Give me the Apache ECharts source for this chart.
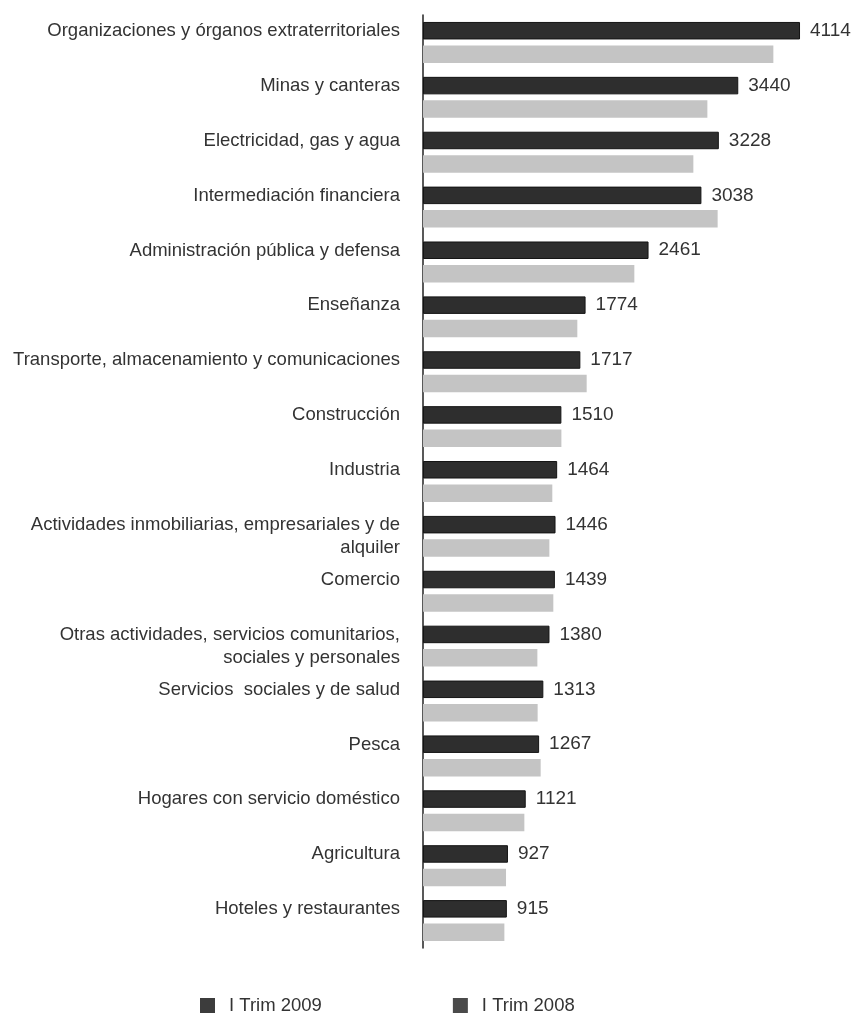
<!DOCTYPE html>
<html>
<head>
<meta charset="utf-8">
<title>Salario por rama de actividad</title>
<script src="https://cdn.jsdelivr.net/npm/echarts@6/dist/echarts.min.js"></script>
<style>
  html, body { margin: 0; padding: 0; background: #fff; }
  #chart { width: 857px; height: 1016px; }
</style>
</head>
<body>
<div id="chart"></div>
<script>
// Sectors, listed from top to bottom
var categories = [
  'Organizaciones y órganos extraterritoriales',
  'Minas y canteras',
  'Electricidad, gas y agua',
  'Intermediación financiera',
  'Administración pública y defensa',
  'Enseñanza',
  'Transporte, almacenamiento y comunicaciones',
  'Construcción',
  'Industria',
  'Actividades inmobiliarias, empresariales y de\nalquiler',
  'Comercio',
  'Otras actividades, servicios comunitarios,\nsociales y personales',
  'Servicios  sociales y de salud',
  'Pesca',
  'Hogares con servicio doméstico',
  'Agricultura',
  'Hoteles y restaurantes'
];

var seriesNames = ['I Trim 2009', 'I Trim 2008'];

var trim2009 = [4114, 3440, 3228, 3038, 2461, 1774, 1717, 1510, 1464, 1446, 1439, 1380, 1313, 1267, 1121, 927, 915];
var trim2008 = [3823, 3103, 2950, 3215, 2306, 1684, 1786, 1510, 1411, 1379, 1422, 1248, 1251, 1284, 1106, 906, 888];

var FONT = '"Liberation Sans", Arial, sans-serif';
var TEXT = '#333333';

var chart = echarts.init(document.getElementById('chart'), null, { renderer: 'canvas' });

chart.setOption({
  backgroundColor: '#ffffff',
  animation: false,
  grid: { left: 423, top: 15, width: 412.4, height: 933, containLabel: false },
  xAxis: {
    type: 'value',
    min: 0,
    max: 4500,
    show: false
  },
  yAxis: {
    type: 'category',
    data: categories,
    inverse: true,
    axisLine: { show: true, lineStyle: { color: '#222222', width: 1.5 } },
    axisTick: { show: false },
    splitLine: { show: false },
    axisLabel: {
      margin: 23,
      fontFamily: FONT,
      fontSize: 18.5,
      color: TEXT,
      lineHeight: 23,
      align: 'right',
      verticalAlign: 'middle',
      // first line sits level with the dark bar of each pair
      formatter: function (v) { return v.indexOf('\n') < 0 ? v + '\n ' : v; }
    }
  },
  legend: {
    left: 195,
    top: 991,
    itemWidth: 15,
    itemHeight: 15,
    itemGap: 131,
    icon: 'rect',
    itemStyle: { borderWidth: 0 },
    textStyle: { fontFamily: FONT, fontSize: 18.5, color: TEXT, padding: [0, 0, 0, 9] },
    data: [
      { name: seriesNames[0], itemStyle: { color: '#3c3c3c', borderWidth: 0 } },
      { name: seriesNames[1], itemStyle: { color: '#4a4a4a', borderWidth: 0 } }
    ]
  },
  series: [
    {
      name: seriesNames[0],
      type: 'bar',
      data: trim2009,
      barWidth: 17.5,
      barGap: '34%',
      itemStyle: { color: '#2e2e2e', borderColor: '#141414', borderWidth: 1 },
      label: {
        show: true,
        position: 'right',
        distance: 10,
        fontFamily: FONT,
        fontSize: 19,
        color: TEXT
      }
    },
    {
      name: seriesNames[1],
      type: 'bar',
      data: trim2008,
      barWidth: 17.5,
      itemStyle: { color: '#c4c4c4' }
    }
  ]
});
</script>
</body>
</html>
